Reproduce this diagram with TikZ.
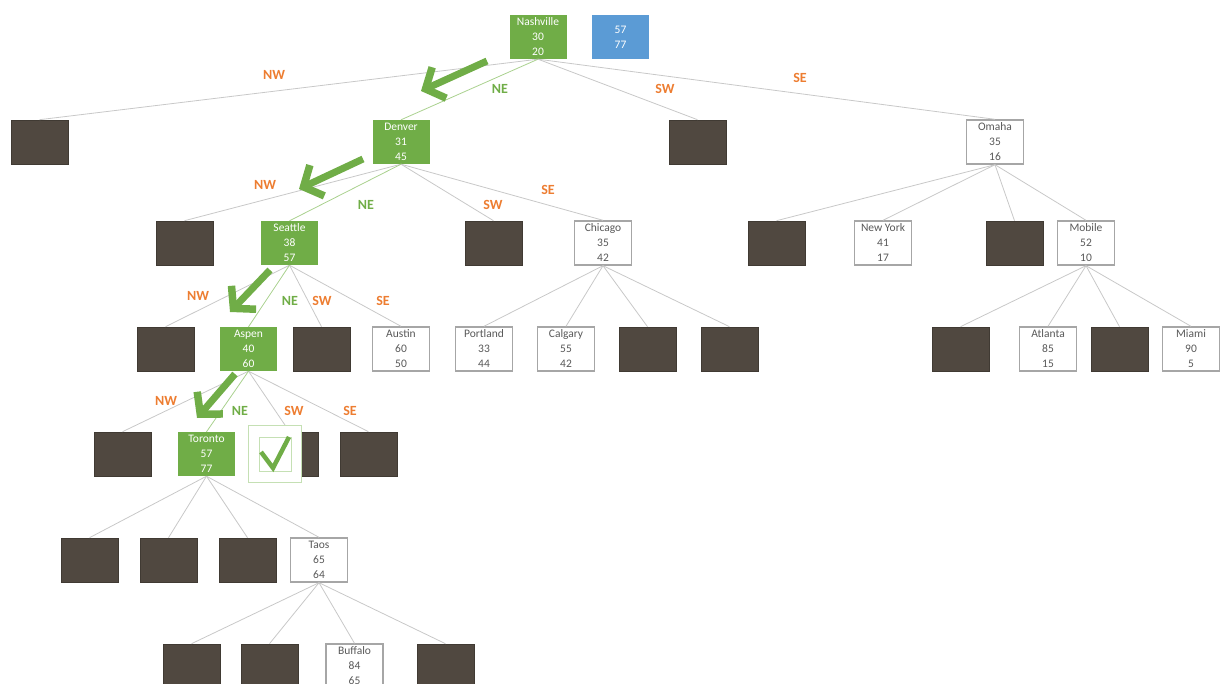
\documentclass[tikz,border=0pt]{standalone}
\usepackage{fontspec}
\setmainfont{Carlito}
\usetikzlibrary{arrows.meta,calc}
\definecolor{okgreen}{HTML}{70AD47}
\definecolor{lightgreen}{HTML}{A9D18E}
\definecolor{paleframe}{HTML}{C5E0B4}
\definecolor{qblue}{HTML}{5B9BD5}
\definecolor{pruned}{HTML}{504840}
\definecolor{dirorange}{HTML}{ED7D31}
\definecolor{boxgray}{HTML}{A6A6A6}
\definecolor{txtgray}{HTML}{595959}
\definecolor{edgegray}{HTML}{C8C8C8}
\begin{document}
\begin{tikzpicture}[x=1pt,y=-1pt,
  box/.style={rectangle, minimum width=57pt, minimum height=44pt, inner sep=0pt,
    align=center, font=\fontsize{11.5}{15}\selectfont},
  city/.style={box, draw=boxgray, line width=1.4pt, fill=white, text=txtgray},
  onpath/.style={box, fill=okgreen, text=white},
  query/.style={box, fill=qblue, text=white},
  dead/.style={box, fill=pruned, draw=pruned!80!black, line width=0.6pt},
  tie/.style={draw=edgegray, line width=0.8pt},
  pathtie/.style={draw=lightgreen, line width=0.8pt},
  dirlbl/.style={font=\fontsize{14}{14}\selectfont\bfseries, inner sep=0pt},
  quad/.style={dirlbl, text=dirorange},
  quadok/.style={dirlbl, text=okgreen},
  walk/.style={draw=okgreen, line width=7pt,
    -{Straight Barb[length=15pt,width=34pt,line width=7.5pt]}}
]
\clip (0,0) rectangle (1226,684);

% level 0
\node[onpath] (nash) at (538,37) {Nashville\\30\\20};
\node[query] (target) at (620.5,37) {57\\77};

% level 1
\node[dead] (a1) at (39.5,142) {};
\node[onpath] (denver) at (401,142) {Denver\\31\\45};
\node[dead] (a3) at (697.5,142) {};
\node[city] (omaha) at (995,142) {Omaha\\35\\16};

% level 2
\node[dead] (b1) at (184.5,243) {};
\node[onpath] (seattle) at (289.5,243) {Seattle\\38\\57};
\node[dead] (b3) at (493.5,243) {};
\node[city] (chicago) at (603,243) {Chicago\\35\\42};
\node[dead] (b5) at (776.5,243) {};
\node[city] (newyork) at (883,243) {New York\\41\\17};
\node[dead] (b7) at (1014.5,243) {};
\node[city] (mobile) at (1086,243) {Mobile\\52\\10};

% level 3
\node[dead] (c1) at (165.5,349) {};
\node[onpath] (aspen) at (248.5,349) {Aspen\\40\\60};
\node[dead] (c3) at (321.5,349) {};
\node[city] (austin) at (401,349) {Austin\\60\\50};
\node[city] (portland) at (484,349) {Portland\\33\\44};
\node[city] (calgary) at (566,349) {Calgary\\55\\42};
\node[dead] (c7) at (647.5,349) {};
\node[dead] (c8) at (729.5,349) {};
\node[dead] (c9) at (960.5,349) {};
\node[city] (atlanta) at (1048,349) {Atlanta\\85\\15};
\node[dead] (c11) at (1119.5,349) {};
\node[city] (miami) at (1191,349) {Miami\\90\\5};

% level 4
\node[dead] (d1) at (122.5,454) {};
\node[onpath] (toronto) at (206.5,454) {Toronto\\57\\77};
\node[dead] (d3) at (289.5,454) {};
\node[dead] (d4) at (368.5,454) {};

% level 5
\node[dead] (e1) at (89.5,560) {};
\node[dead] (e2) at (168.5,560) {};
\node[dead] (e3) at (247.5,560) {};
\node[city] (taos) at (319,560) {Taos\\65\\64};

% level 6
\node[dead] (f1) at (191.5,666) {};
\node[dead] (f2) at (269.5,666) {};
\node[city] (buffalo) at (354.5,666) {Buffalo\\84\\65};
\node[dead] (f4) at (445.5,666) {};

% tree edges
\foreach \p/\c in {nash/a1, nash/a3, nash/omaha,
  denver/b1, denver/b3, denver/chicago,
  seattle/c1, seattle/c3, seattle/austin,
  aspen/d1, aspen/d3, aspen/d4,
  toronto/e1, toronto/e2, toronto/e3, toronto/taos,
  taos/f1, taos/f2, taos/buffalo, taos/f4,
  chicago/portland, chicago/calgary, chicago/c7, chicago/c8,
  omaha/b5, omaha/newyork, omaha/b7, omaha/mobile,
  mobile/c9, mobile/atlanta, mobile/c11, mobile/miami}
  \draw[tie] (\p.south) -- (\c.north);
\foreach \p/\c in {nash/denver, denver/seattle, seattle/aspen, aspen/toronto}
  \draw[pathtie] (\p.south) -- (\c.north);

% accepted candidate marker
\node[rectangle, fill=white, draw=paleframe, line width=0.8pt,
  minimum width=53pt, minimum height=57pt, inner sep=0pt] (tick) at (274.5,453.5) {};
\node[rectangle, draw=paleframe, line width=0.8pt,
  minimum width=32pt, minimum height=34pt, inner sep=0pt] (tickin) at (275,454) {};
\draw[okgreen, line width=4.5pt, line join=miter]
  ($(tickin.center)+(-14,-2)$) -- ($(tickin.center)+(-2,14)$) -- ($(tickin.center)+(14,-17)$);

% quadrant labels
\node[quad]   (l0nw) at (274,75) {NW};
\node[quadok] (l0ne) at (500,89) {NE};
\node[quad]   (l0sw) at (665,89) {SW};
\node[quad]   (l0se) at (800,78) {SE};
\node[quad]   (l1nw) at (265,185) {NW};
\node[quadok] (l1ne) at (366,205) {NE};
\node[quad]   (l1sw) at (493,205) {SW};
\node[quad]   (l1se) at (548,190) {SE};
\node[quad]   (l2nw) at (198,296) {NW};
\node[quadok] (l2ne) at (290,301) {NE};
\node[quad]   (l2sw) at (322,301) {SW};
\node[quad]   (l2se) at (383,301) {SE};
\node[quad]   (l3nw) at (166,401) {NW};
\node[quadok] (l3ne) at (240,411) {NE};
\node[quad]   (l3sw) at (294,411) {SW};
\node[quad]   (l3se) at (350,411) {SE};

% search descent
\coordinate (w0a) at (487,61);  \coordinate (w0b) at (421,91);
\coordinate (w1a) at (363,159); \coordinate (w1b) at (299,189);
\coordinate (w2a) at (270,270); \coordinate (w2b) at (230,312);
\coordinate (w3a) at (235,374); \coordinate (w3b) at (197,418);
\draw[walk] (w0a) -- (w0b);
\draw[walk] (w1a) -- (w1b);
\draw[walk] (w2a) -- (w2b);
\draw[walk] (w3a) -- (w3b);
\end{tikzpicture}
\end{document}
